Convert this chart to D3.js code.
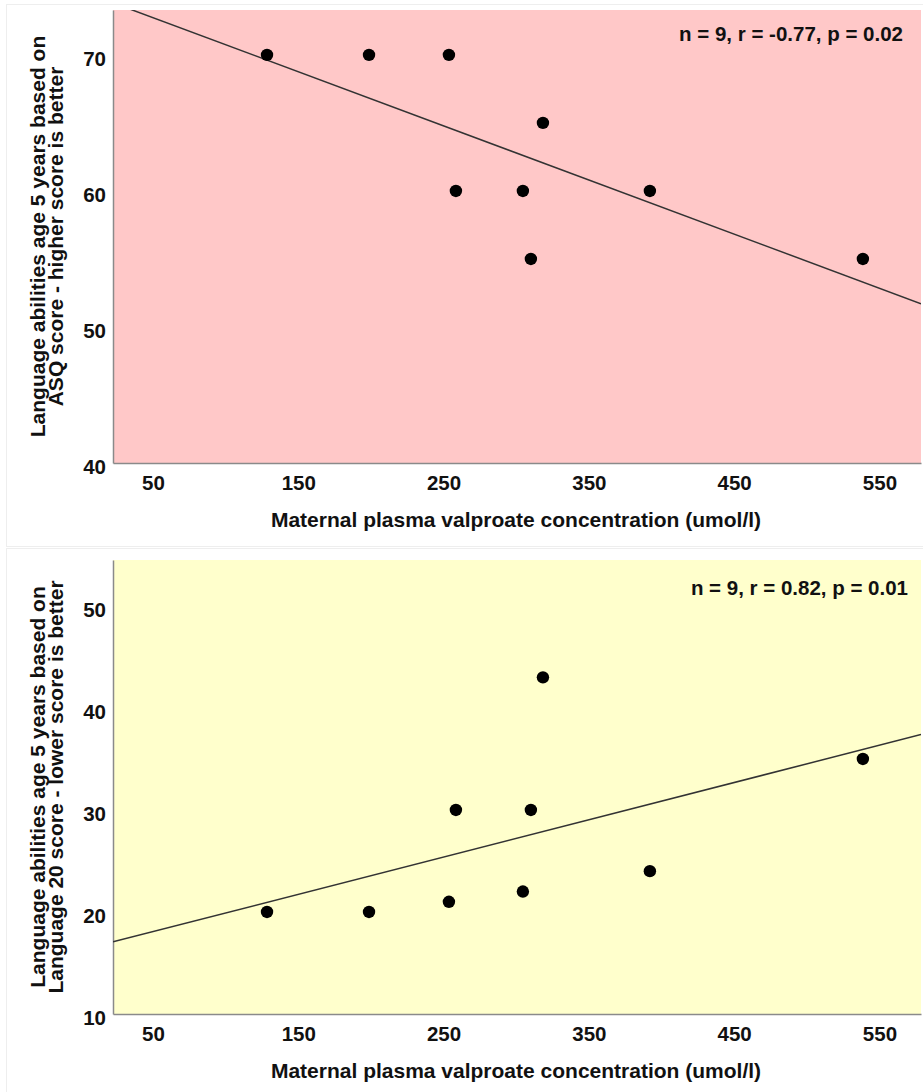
<!DOCTYPE html>
<html>
<head>
<meta charset="utf-8">
<script src="https://cdn.jsdelivr.net/npm/d3@7"></script>
<style>
  html, body { margin: 0; padding: 0; background: #fff; }
  svg { display: block; }
  text { font-family: "Liberation Sans", Arial, sans-serif; font-weight: bold; fill: #111; }
</style>
</head>
<body>
<svg id="chart" width="923" height="1092"></svg>
<script>
// Maternal plasma valproate concentration (umol/l) per child
const concentration = [128.5, 198.7, 253.7, 258.5, 304.6, 318.4, 310.1, 392, 538.6];
// ASQ language score at age 5 (higher is better)
const asqScore = [70, 70, 70, 60, 60, 65, 55, 60, 55];
// Language 20 score at age 5 (lower is better)
const lang20Score = [20, 20, 21, 30, 22, 43, 30, 24, 35];

const xTicks = [50, 150, 250, 350, 450, 550];
const asqTicks = [40, 50, 60, 70];
const lang20Ticks = [10, 20, 30, 40, 50];

const xTitle = "Maternal plasma valproate concentration (umol/l)";

const panels = [
  {
    values: asqScore, ticks: asqTicks, yDomain: [40, 73.3],
    top: 10, bottom: 463, frameTop: 4, frameBottom: 546,
    fill: "#ffc8c8",
    yTitle: ["Language abilities age 5 years based on", "ASQ score - higher score is better"],
    stats: "n = 9, r = -0.77, p = 0.02", statsX: 903, statsDy: 31
  },
  {
    values: lang20Score, ticks: lang20Ticks, yDomain: [10, 54.5],
    top: 560, bottom: 1014, frameTop: 548, frameBottom: 1092,
    fill: "#ffffcc",
    yTitle: ["Language abilities age 5 years based on", "Language 20 score - lower score is better"],
    stats: "n = 9, r = 0.82, p = 0.01", statsX: 908, statsDy: 35
  }
];

const svg = d3.select("#chart");
const left = 113, right = 921;
const fontStack = "'Liberation Sans', Arial, sans-serif";

panels.forEach(p => {
  const g = svg.append("g");

  // light outer frame around each figure panel
  g.append("rect")
    .attr("x", 6.5).attr("y", p.frameTop + 0.5)
    .attr("width", 923).attr("height", p.frameBottom - p.frameTop)
    .attr("fill", "none").attr("stroke", "#eeeeee");

  const x = d3.scaleLinear().domain([22.5, 578.6]).range([left, right]);
  const y = d3.scaleLinear().domain(p.yDomain).range([p.bottom, p.top]);

  g.append("rect")
    .attr("x", left).attr("y", p.top)
    .attr("width", right - left).attr("height", p.bottom - p.top)
    .attr("fill", p.fill);

  // axes (no tick marks, labels only)
  const xAxis = g.append("g")
    .attr("transform", `translate(0,${p.bottom})`)
    .call(d3.axisBottom(x).tickValues(xTicks).tickSize(0).tickPadding(0).tickFormat(d3.format("d")));
  xAxis.select(".domain").attr("stroke", "#8a8a8a").attr("stroke-width", 1.5);
  xAxis.selectAll("text")
    .attr("y", 27).attr("dy", null)
    .style("font-size", "20.5px").attr("fill", "#111")
    .style("font-family", fontStack).style("font-weight", "bold");

  const yAxis = g.append("g")
    .attr("transform", `translate(${left},0)`)
    .call(d3.axisLeft(y).tickValues(p.ticks).tickSize(0).tickPadding(7).tickFormat(d3.format("d")));
  yAxis.select(".domain").attr("stroke", "#8a8a8a").attr("stroke-width", 1.5);
  yAxis.selectAll("text")
    .attr("dy", "0.5em")
    .style("font-size", "20.5px").attr("fill", "#111")
    .style("font-family", fontStack).style("font-weight", "bold");

  // least-squares fit line
  const mx = d3.mean(concentration), my = d3.mean(p.values);
  let sxy = 0, sxx = 0;
  concentration.forEach((c, i) => { sxy += (c - mx) * (p.values[i] - my); sxx += (c - mx) ** 2; });
  const slope = sxy / sxx, intercept = my - slope * mx;

  const clipId = "clip" + p.top;
  g.append("clipPath").attr("id", clipId).append("rect")
    .attr("x", left).attr("y", p.top).attr("width", right - left).attr("height", p.bottom - p.top);

  const [x0, x1] = x.domain();
  g.append("line")
    .attr("clip-path", `url(#${clipId})`)
    .attr("x1", x(x0)).attr("y1", y(intercept + slope * x0))
    .attr("x2", x(x1)).attr("y2", y(intercept + slope * x1))
    .attr("stroke", "#333").attr("stroke-width", 1.5);

  g.selectAll("circle.pt")
    .data(concentration.map((c, i) => [c, p.values[i]]))
    .join("circle")
    .attr("class", "pt")
    .attr("cx", d => x(d[0])).attr("cy", d => y(d[1]))
    .attr("r", 6.2).attr("fill", "#000");

  g.append("text")
    .attr("x", p.statsX).attr("y", p.top + p.statsDy)
    .attr("text-anchor", "end")
    .style("font-size", "20.5px")
    .text(p.stats);

  g.append("text")
    .attr("x", 516).attr("y", p.bottom + 64)
    .attr("text-anchor", "middle")
    .style("font-size", "21px")
    .text(xTitle);

  const cy = (p.top + p.bottom) / 2;
  const yt = g.append("text")
    .attr("transform", `translate(45,${cy}) rotate(-90)`)
    .attr("text-anchor", "middle")
    .style("font-size", "21px");
  yt.append("tspan").attr("x", 0).attr("y", 0).text(p.yTitle[0]);
  yt.append("tspan").attr("x", 0).attr("y", 18).text(p.yTitle[1]);
});
</script>
</body>
</html>
